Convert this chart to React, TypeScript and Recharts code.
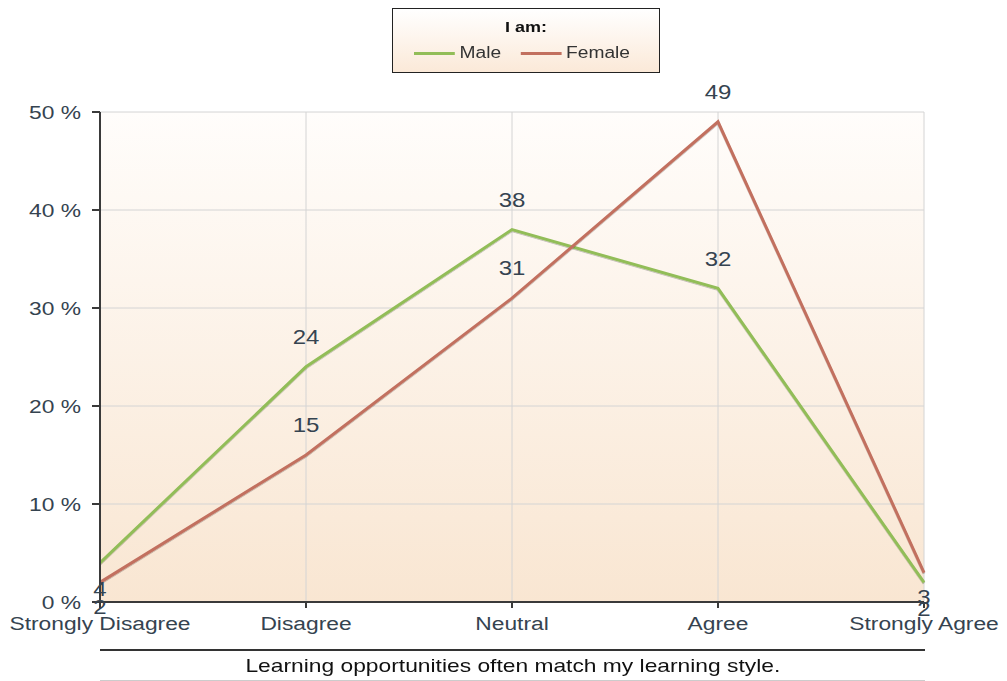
import React from "react";
import {
  LineChart,
  Line,
  XAxis,
  YAxis,
  CartesianGrid,
  Legend,
  LabelList,
} from "recharts";

const categories = ["Strongly Disagree", "Disagree", "Neutral", "Agree", "Strongly Agree"];
const maleValues = [4, 24, 38, 32, 2];
const femaleValues = [2, 15, 31, 49, 3];
const yTicks = [0, 10, 20, 30, 40, 50];

const data = categories.map((c, i) => ({
  category: c,
  Male: maleValues[i],
  Female: femaleValues[i],
}));

const colors = {
  Male: "#92bd58",
  Female: "#c2705f",
  text: "#354350",
  grid: "#d4d4d4",
  axis: "#3a3a3a",
};

const font = "Arial, 'Liberation Sans', sans-serif";
// the whole chart uses slightly widened lettering
const stretch = 1.2;

const WideText = ({ x, y, anchor, dy, size, children }: any) => (
  <g transform={`translate(${x},${y})`}>
    <text
      transform={`scale(${stretch},1)`}
      textAnchor={anchor}
      dy={dy}
      fontSize={size}
      fontFamily={font}
      fill={colors.text}
    >
      {children}
    </text>
  </g>
);

const XTick = ({ x, y, payload }: any) => (
  <WideText x={x} y={y} anchor="middle" dy="0.71em" size={19}>
    {payload.value}
  </WideText>
);

const YTick = ({ x, y, payload }: any) => (
  <WideText x={x} y={y} anchor="end" dy="0.355em" size={19}>
    {`${payload.value} %`}
  </WideText>
);

// value labels sit above the point, except at the chart edges where they drop below
const makeLabel = (offsetEdge: number) => (props: any) => {
  const { x, y, value, index } = props;
  const edge = index === 0 || index === categories.length - 1;
  return (
    <WideText
      x={x}
      y={y + (edge ? offsetEdge : -30)}
      anchor="middle"
      dy="0.355em"
      size={20}
    >
      {value}
    </WideText>
  );
};

const LegendBox = () => (
  <div
    style={{
      width: 268,
      height: 65,
      border: "1px solid #222",
      background: "linear-gradient(#ffffff, #fbe9d8)",
      fontFamily: font,
      fontSize: 16,
      color: "#333",
      boxSizing: "border-box",
    }}
  >
    <div
      style={{
        textAlign: "center",
        fontWeight: "bold",
        fontSize: 15,
        color: "#111",
        paddingTop: 9,
        transform: `scaleX(${stretch})`,
      }}
    >
      I am:
    </div>
    <div
      style={{
        display: "flex",
        justifyContent: "center",
        gap: 16,
        marginTop: 9,
        marginLeft: -8,
        transform: `scaleX(${stretch})`,
      }}
    >
      {(["Male", "Female"] as const).map((k) => (
        <div key={k} style={{ display: "flex", alignItems: "center", gap: 4 }}>
          <span style={{ display: "inline-block", width: 34, height: 3, background: colors[k] }} />
          {k}
        </div>
      ))}
    </div>
  </div>
);

export default function App() {
  return (
    <div style={{ position: "absolute", left: 0, top: 0, width: 1007, height: 681, background: "#fff" }}>
      <svg width={0} height={0} style={{ position: "absolute" }}>
        <defs>
          <linearGradient id="plotBg" x1="0" y1="0" x2="0" y2="1">
            <stop offset="0%" stopColor="#fffdfb" />
            <stop offset="100%" stopColor="#f9e6d2" />
          </linearGradient>
          <filter id="lineShadow" x="-5%" y="-5%" width="110%" height="115%">
            <feDropShadow dx="0" dy="1" stdDeviation="0.6" floodColor="#000" floodOpacity="0.25" />
          </filter>
        </defs>
      </svg>
      <LineChart
        width={1007}
        height={681}
        data={data}
        margin={{ top: 47, right: 83, left: 0, bottom: 0 }}
      >
        <CartesianGrid stroke={colors.grid} fill="url(#plotBg)" fillOpacity={1} />
        <XAxis
          dataKey="category"
          padding={{ left: 0, right: 0 }}
          height={79}
          interval={0}
          tickSize={6}
          tickMargin={9}
          stroke={colors.axis}
          strokeWidth={2}
          tick={<XTick />}
        />
        <YAxis
          domain={[0, 50]}
          ticks={yTicks}
          width={100}
          tickSize={8}
          tickMargin={11}
          stroke={colors.axis}
          strokeWidth={2}
          tick={<YTick />}
        />
        <Legend
          verticalAlign="top"
          wrapperStyle={{ top: 8, left: 392, width: 268 }}
          content={() => <LegendBox />}
        />
        <Line
          dataKey="Male"
          stroke={colors.Male}
          strokeWidth={3}
          dot={false}
          filter="url(#lineShadow)"
          isAnimationActive={false}
        >
          <LabelList dataKey="Male" content={makeLabel(26)} />
        </Line>
        <Line
          dataKey="Female"
          stroke={colors.Female}
          strokeWidth={3}
          dot={false}
          filter="url(#lineShadow)"
          isAnimationActive={false}
        >
          <LabelList dataKey="Female" content={makeLabel(24)} />
        </Line>
      </LineChart>
      <div
        style={{
          position: "absolute",
          left: 100,
          top: 649,
          width: 825,
          height: 29,
          borderTop: "2px solid #333",
          borderBottom: "1px solid #ccc",
          textAlign: "center",
          fontFamily: font,
          fontSize: 19,
          lineHeight: "29px",
          color: "#111",
        }}
      >
        <span style={{ display: "inline-block", transform: `scaleX(${stretch})` }}>
          Learning opportunities often match my learning style.
        </span>
      </div>
    </div>
  );
}
